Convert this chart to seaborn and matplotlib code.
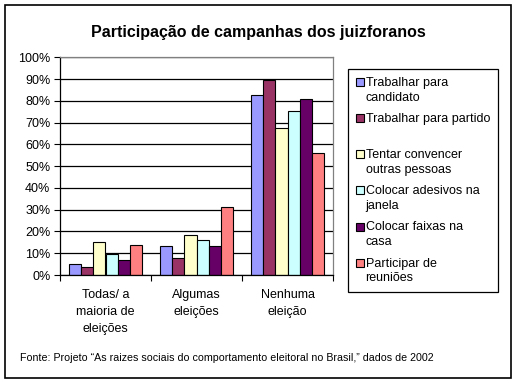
import numpy as np
import pandas as pd
import matplotlib
matplotlib.use("Agg")
import matplotlib.pyplot as plt
import seaborn as sns
from matplotlib.patches import Rectangle, Patch
from matplotlib.legend_handler import HandlerPatch

categories = ["Todas/ a\nmaioria de\neleições", "Algumas\neleições", "Nenhuma\neleição"]
series = ["Trabalhar para\ncandidato", "Trabalhar para partido\n ", "Tentar convencer\noutras pessoas",
          "Colocar adesivos na\njanela", "Colocar faixas na\ncasa", "Participar de\nreuniões"]
trabalhar_candidato = [4.9, 13.2, 82.5]
trabalhar_partido = [3.7, 7.7, 89.6]
tentar_convencer = [15.2, 18.2, 67.4]
adesivos = [9.8, 15.9, 75.3]
faixas = [6.7, 13.2, 80.7]
reunioes = [13.6, 31.1, 55.9]
values = [trabalhar_candidato, trabalhar_partido, tentar_convencer, adesivos, faixas, reunioes]
colors = ["#9999FF", "#993366", "#FFFFCC", "#CCFFFF", "#660066", "#FF8080"]
yticks = [0, 10, 20, 30, 40, 50, 60, 70, 80, 90, 100]
title = "Participação de campanhas dos juizforanos"
source = "Fonte: Projeto \u201cAs raizes sociais do comportamento eleitoral no Brasil,\u201d dados de 2002"

rows = []
for s, vals in zip(series, values):
    for c, v in zip(categories, vals):
        rows.append({"cat": c, "serie": s, "val": v})
df = pd.DataFrame(rows)

sns.set_theme(style="white")
plt.rcParams["font.family"] = ["Liberation Sans", "DejaVu Sans"]

W, H = 516, 383
fig = plt.figure(figsize=(W / 100, H / 100), dpi=100)
fig.patch.set_facecolor("white")
ax = fig.add_axes([60 / W, 1 - 275 / H, 273 / W, (275 - 57.3) / H])

sns.barplot(data=df, x="cat", y="val", hue="serie", order=categories, hue_order=series,
            palette=colors, edgecolor="black", linewidth=0.8, width=0.8, saturation=1,
            ax=ax, legend=False)

ax.set_xlim(-0.5, 2.5)
ax.set_ylim(0, 100)
ax.set_yticks(yticks)
ax.set_yticklabels([f"{t}%" for t in yticks], fontsize=9)
ax.set_xticks([-0.5, 0.5, 1.5, 2.5])
ax.set_xticklabels([])
ax.set_xticks([0, 1, 2], minor=True)
ax.set_xticklabels(categories, minor=True, fontsize=9, linespacing=1.55)
ax.tick_params(axis="x", which="major", direction="out", length=4, width=0.8, color="black", bottom=True)
ax.tick_params(axis="x", which="minor", length=0, pad=10)
ax.tick_params(axis="y", direction="out", length=4, width=0.8, color="black", left=True, pad=3)
ax.set_xlabel("")
ax.set_ylabel("")
ax.set_axisbelow(True)
ax.yaxis.grid(True, color="black", linewidth=0.9)
ax.xaxis.grid(False)
for side in ["top", "right"]:
    ax.spines[side].set_color("#808080")
    ax.spines[side].set_linewidth(0.9)
for side in ["left", "bottom"]:
    ax.spines[side].set_color("black")
    ax.spines[side].set_linewidth(0.9)
for t in ax.get_yticklabels() + ax.get_xticklabels(minor=True):
    t.set_color("black")

fig.text(0.5, 1 - 33 / H, title, ha="center", va="center", fontsize=11.5, fontweight="bold", color="black")
fig.text(20 / W, 1 - 358 / H, source, ha="left", va="center", fontsize=7.7, color="black")


class TopHandler(HandlerPatch):
    def __init__(self, shift, **kw):
        super().__init__(**kw)
        self.shift = shift

    def create_artists(self, legend, orig_handle, xdescent, ydescent, width, height, fontsize, trans):
        p = Rectangle((-xdescent, -ydescent + self.shift), width, height,
                      facecolor=orig_handle.get_facecolor(), edgecolor="black", lw=0.8, transform=trans)
        return [p]


handles = [Patch(facecolor=c, edgecolor="black") for c in colors]
leg = fig.legend(handles, series, loc="upper left", bbox_to_anchor=(348 / W, 1 - 69 / H),
                 fontsize=9, frameon=True, fancybox=False, shadow=False, framealpha=1,
                 edgecolor="black", borderpad=0.65, handlelength=0.6, handleheight=0.6,
                 handletextpad=0.15, labelspacing=0.75, borderaxespad=0,
                 handler_map={Patch: TopHandler(6.0)})
leg.get_frame().set_linewidth(0.9)
for t in leg.get_texts():
    t.set_color("black")
    t.set_linespacing(1.3)

fig.add_artist(Rectangle((5 / W, 5 / H), 506 / W, 373 / H, transform=fig.transFigure,
                         fill=False, edgecolor="black", linewidth=1.2))

fig.savefig("out.png", dpi=100, facecolor="white")
